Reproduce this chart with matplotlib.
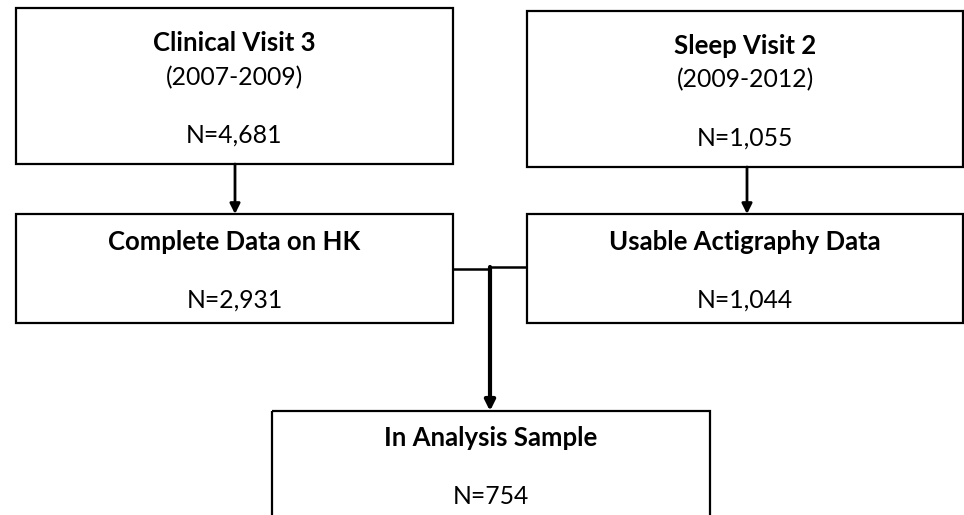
import matplotlib.pyplot as plt
from matplotlib.patches import Rectangle

plt.rcParams['font.family'] = ['Lato', 'DejaVu Sans']

# box contents
titles = ["Clinical Visit 3", "Sleep Visit 2", "Complete Data on HK",
          "Usable Actigraphy Data", "In Analysis Sample"]
periods = ["(2007-2009)", "(2009-2012)", None, None, None]
counts = [4681, 1055, 2931, 1044, 754]

# layout in pixel coords (x0, y0, x1, y1), y grows downward
boxes = [(16, 8, 453, 164), (527, 11, 963, 167), (16, 214, 453, 323),
         (527, 214, 963, 323), (272, 411, 710, 540)]
title_y = [43, 46, 242, 242, 438]
period_y = [78, 80, None, None, None]
count_y = [135, 138, 300, 300, 497]

W, H = 964, 515
fig = plt.figure(figsize=(W / 100, H / 100), dpi=100)
ax = fig.add_axes([0, 0, 1, 1])
ax.set_xlim(0, W)
ax.set_ylim(H, 0)
ax.axis('off')

FS_B = 18.5
FS = 17.8
for i, (x0, y0, x1, y1) in enumerate(boxes):
    ax.add_patch(Rectangle((x0, y0), x1 - x0, y1 - y0, fill=False,
                           edgecolor='black', linewidth=1.6, clip_on=False))
    cx = (x0 + x1) / 2
    ax.text(cx, title_y[i], titles[i], ha='center', va='center',
            fontsize=FS_B, fontweight='bold')
    if periods[i]:
        ax.text(cx, period_y[i], periods[i], ha='center', va='center',
                fontsize=FS)
    ax.text(cx, count_y[i], f"N={counts[i]:,}", ha='center', va='center',
            fontsize=FS)


def arrow(x, y0, y1, lw=2.0):
    ax.annotate('', xy=(x, y1), xytext=(x, y0),
                arrowprops=dict(arrowstyle='-|>', color='black', lw=lw,
                                mutation_scale=15, shrinkA=0, shrinkB=0))


arrow(235, boxes[0][3], boxes[2][1])
arrow(747, boxes[1][3], boxes[3][1])

# merge connector
ax.plot([453, 490], [269, 269], color='black', lw=1.8, solid_capstyle='butt')
ax.plot([490, 527], [267, 267], color='black', lw=1.8, solid_capstyle='butt')
arrow(490, 267, boxes[4][1], lw=3.0)

fig.savefig('out.png', dpi=100, facecolor='white')
